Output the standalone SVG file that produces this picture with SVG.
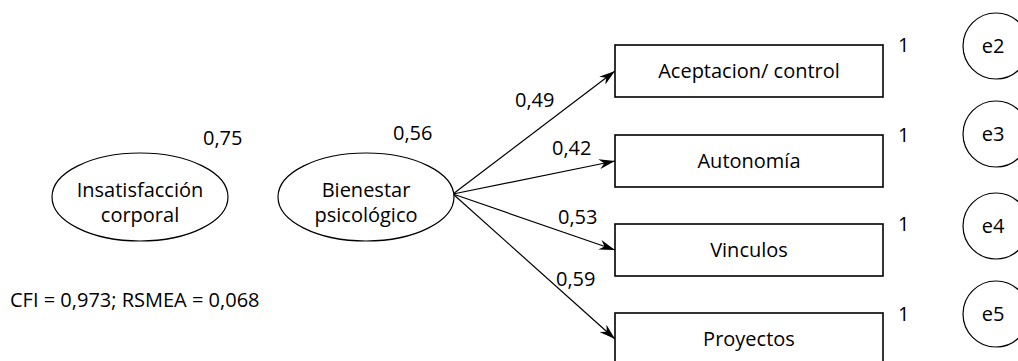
<svg xmlns="http://www.w3.org/2000/svg" width="1018" height="361" viewBox="0 0 1018 361">
<style>
text{font-family:"Open Sans","Noto Sans","Liberation Sans",sans-serif;font-size:20px;fill:#000}
.c{text-anchor:middle}
.s{fill:#fff;stroke:#000;stroke-width:1.2}
.r{fill:#fff;stroke:#000;stroke-width:1.6}
.a{stroke:#000;stroke-width:1.2;fill:none;marker-end:url(#ah)}
</style>
<defs>
<marker id="ah" viewBox="0 0 16 10" refX="16" refY="5" markerWidth="16" markerHeight="10" markerUnits="userSpaceOnUse" orient="auto">
<path d="M0,0 L16,5 L0,10 L5,5 z" fill="#000"/>
</marker>
</defs>
<rect width="1018" height="361" fill="#fff"/>
<g id="connectors">
<line class="a" x1="453" y1="194" x2="615" y2="71"/>
<line class="a" x1="453" y1="194" x2="615" y2="161"/>
<line class="a" x1="453" y1="194" x2="615" y2="250"/>
<line class="a" x1="453" y1="194" x2="615" y2="339"/>
</g>
<g id="insatisfaccion">
<ellipse class="s" cx="140" cy="197" rx="88" ry="44"/>
<text class="c" x="140" y="197">Insatisfacción</text>
<text class="c" x="140" y="222">corporal</text>
<text x="203" y="145">0,75</text>
</g>
<g id="bienestar">
<ellipse class="s" cx="366" cy="197" rx="88" ry="44"/>
<text class="c" x="366" y="197">Bienestar</text>
<text class="c" x="366" y="222">psicológico</text>
<text x="393" y="140">0,56</text>
</g>
<g id="labels">
<text x="515" y="107">0,49</text>
<text x="552" y="155">0,42</text>
<text x="558" y="224">0,53</text>
<text x="556" y="286">0,59</text>
<text x="10" y="307">CFI = 0,973; RSMEA = 0,068</text>
</g>
<g id="aceptacion">
<rect class="r" x="615" y="45" width="268" height="52"/>
<text class="c" x="749" y="78">Aceptacion/ control</text>
<text x="898" y="52">1</text>
</g>
<g id="autonomia">
<rect class="r" x="615" y="135" width="268" height="52"/>
<text class="c" x="749" y="168">Autonomía</text>
<text x="898" y="142">1</text>
</g>
<g id="vinculos">
<rect class="r" x="615" y="224" width="268" height="52"/>
<text class="c" x="749" y="257">Vinculos</text>
<text x="898" y="231">1</text>
</g>
<g id="proyectos">
<rect class="r" x="615" y="313" width="268" height="52"/>
<text class="c" x="749" y="346">Proyectos</text>
<text x="898" y="321">1</text>
</g>
<g id="e2"><circle class="s" cx="996" cy="46" r="33"/><text class="c" x="993" y="53">e2</text></g>
<g id="e3"><circle class="s" cx="996" cy="134" r="33"/><text class="c" x="993" y="141">e3</text></g>
<g id="e4"><circle class="s" cx="996" cy="226" r="33"/><text class="c" x="993" y="233">e4</text></g>
<g id="e5"><circle class="s" cx="996" cy="314" r="33"/><text class="c" x="993" y="321">e5</text></g>
</svg>
